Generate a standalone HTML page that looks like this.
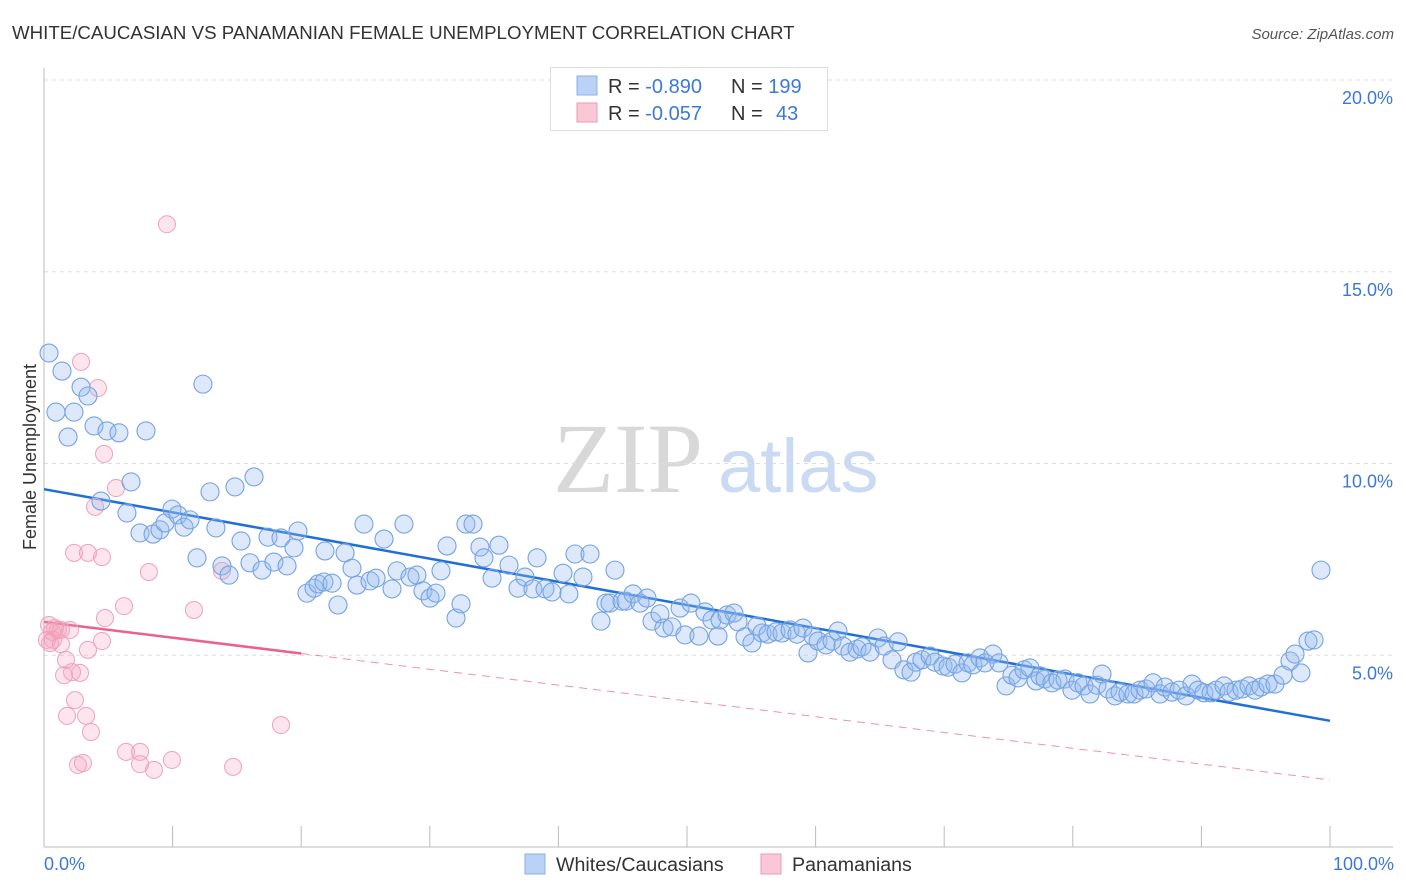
<!DOCTYPE html>
<html><head><meta charset="utf-8"><style>
body{margin:0;background:#fff;font-family:"Liberation Sans",sans-serif;}
svg{display:block}
</style></head><body>
<svg id="chart" width="1406" height="892" xmlns="http://www.w3.org/2000/svg">
<text x="12" y="39" font-size="18.7" fill="#333">WHITE/CAUCASIAN VS PANAMANIAN FEMALE UNEMPLOYMENT CORRELATION CHART</text>
<text x="1394" y="39" font-size="15" fill="#555" font-style="italic" text-anchor="end">Source: ZipAtlas.com</text>
<g>
<text x="553" y="492" font-size="100" font-family="Liberation Serif,serif" fill="#d8d8d8">ZIP</text>
<text x="718" y="492" font-size="76" fill="#c9daf2">atlas</text>
</g>
<g id="grid"></g>
<g id="axes"></g>
<g id="trend"></g>
<g id="pinkPts"></g>
<g id="bluePts"></g>
<text x="36" y="457" font-size="18" fill="#333" text-anchor="middle" transform="rotate(-90 36 457)">Female Unemployment</text>
<g>
<rect x="550.5" y="67.5" width="277" height="63" fill="#fff" stroke="#ddd"/>
<rect x="577" y="76" width="20" height="19" fill="#b9d2f5" stroke="#8ab0ea"/>
<rect x="577" y="103" width="20" height="19" fill="#f9c7d6" stroke="#ee9ab5"/>
<text x="608" y="93" font-size="20" fill="#333">R = <tspan fill="#3b78d8">-0.890</tspan></text>
<text x="731" y="93" font-size="20" fill="#333">N = <tspan fill="#3b78d8">199</tspan></text>
<text x="608" y="120" font-size="20" fill="#333">R = <tspan fill="#3b78d8">-0.057</tspan></text>
<text x="731" y="120" font-size="20" fill="#333">N = <tspan fill="#3b78d8" x="776">43</tspan></text>
</g>
<g>
<rect x="525" y="854" width="20" height="20" fill="#b9d2f5" stroke="#8ab0ea"/>
<text x="556" y="871" font-size="19.6" fill="#333">Whites/Caucasians</text>
<rect x="761" y="854" width="20" height="20" fill="#f9c7d6" stroke="#ee9ab5"/>
<text x="792" y="871" font-size="19.6" fill="#333">Panamanians</text>
</g>
</svg>
<script>
const blueX=[0.39,1.40,2.88,3.42,0.93,2.33,1.87,3.89,4.90,5.83,7.93,12.36,4.43,6.77,6.45,7.47,8.48,9.02,9.41,9.95,10.42,10.89,11.35,11.90,12.91,13.37,13.84,14.39,14.85,15.32,16.02,16.33,16.95,17.42,17.88,18.43,18.90,19.44,19.75,20.45,21.00,21.31,21.77,22.40,21.85,22.86,23.41,23.95,24.34,24.88,25.35,25.82,26.44,27.06,27.45,27.99,28.46,29.00,29.47,30.02,30.48,30.87,31.34,32.04,32.43,32.81,33.36,33.90,34.21,34.84,35.38,36.16,36.86,37.40,38.02,38.34,38.96,39.50,40.36,40.82,41.29,41.91,42.46,43.31,43.70,44.01,44.40,44.95,45.26,45.80,46.35,46.89,47.28,47.90,48.21,48.83,49.46,49.84,50.31,50.93,51.40,51.94,52.41,52.57,53.11,53.65,53.97,54.51,55.05,55.44,55.83,56.30,56.92,57.39,58.01,58.55,59.02,59.41,59.80,60.19,60.81,61.28,61.74,62.13,62.67,63.22,63.61,64.23,64.85,65.32,65.94,66.41,66.87,67.42,67.81,68.27,68.90,69.28,69.91,70.30,70.84,71.38,71.85,72.24,72.78,73.17,73.79,74.26,74.81,75.27,75.74,76.21,76.67,77.14,77.45,77.84,78.38,78.85,79.39,79.94,80.40,80.87,81.34,81.88,82.27,82.74,83.28,83.67,84.29,84.76,85.23,85.69,86.24,86.78,87.17,87.71,88.26,88.80,89.27,89.74,90.20,90.75,91.14,91.76,92.15,92.69,93.16,93.70,94.17,94.63,95.18,95.72,96.35,96.89,97.28,97.74,98.29,98.76,99.30];
const blueY=[12.88,12.41,11.99,11.76,11.34,11.34,10.69,10.98,10.85,10.80,10.85,12.07,9.02,9.52,8.71,8.19,8.16,8.27,8.45,8.81,8.66,8.34,8.53,7.54,9.26,8.32,7.33,7.09,9.39,7.98,7.41,9.65,7.22,8.08,7.43,8.06,7.33,7.80,8.24,6.62,6.75,6.86,6.91,6.88,7.72,6.31,7.67,7.27,6.83,8.42,6.94,7.01,8.03,6.73,7.20,8.42,7.04,7.09,6.68,6.49,6.62,7.20,7.85,5.97,6.34,8.42,8.42,7.82,7.54,7.01,7.87,7.35,6.75,7.04,6.73,7.54,6.73,6.65,7.14,6.60,7.64,7.04,7.64,5.89,6.36,6.36,7.22,6.41,6.41,6.60,6.36,6.49,5.89,6.08,5.71,5.74,6.23,5.53,6.36,5.50,6.13,5.92,5.50,5.92,6.05,6.10,5.87,5.48,5.32,5.76,5.58,5.55,5.61,5.58,5.66,5.55,5.71,5.06,5.50,5.37,5.27,5.37,5.63,5.24,5.08,5.16,5.22,5.08,5.45,5.24,4.88,5.35,4.62,4.56,4.82,4.88,4.98,4.82,4.72,4.69,4.77,4.54,4.80,4.75,4.93,4.80,5.03,4.80,4.20,4.48,4.41,4.62,4.67,4.33,4.46,4.38,4.28,4.35,4.38,4.09,4.28,4.20,3.99,4.22,4.51,4.12,3.94,4.04,3.99,3.99,4.09,4.12,4.28,3.99,4.17,4.04,4.09,3.94,4.25,4.09,4.02,4.02,4.09,4.20,4.04,4.09,4.12,4.20,4.09,4.17,4.25,4.25,4.48,4.85,5.03,4.54,5.37,5.40,7.22];
const pinkX=[0.39,0.62,0.86,1.09,0.47,0.70,1.32,2.02,1.32,1.71,2.18,2.80,1.56,2.41,1.79,3.27,3.65,2.64,3.03,6.38,7.47,7.47,8.55,9.95,14.70,18.43,2.33,3.42,4.51,8.16,13.84,11.66,4.74,6.22,4.51,3.42,3.97,5.60,4.67,4.20,2.88,9.56,0.23];
const pinkY=[5.79,5.61,5.71,5.66,5.32,5.40,5.66,5.66,5.29,4.88,4.56,4.54,4.48,3.83,3.42,3.42,3.00,2.14,2.19,2.48,2.48,2.16,2.01,2.27,2.09,3.18,7.67,7.67,7.56,7.17,7.20,6.18,5.97,6.28,5.37,5.14,8.87,9.36,10.25,11.97,12.65,16.24,5.40];
const blueTrend=[9.33,3.29];
const pinkTrend=[5.87,1.75];
const pinkSolidEnd=20;
const yTicks=[5,10,15,20];
const xTickLabels=["0.0%","100.0%"];

const NS="http://www.w3.org/2000/svg";
const X0=44,X1=1330,Y0=847,PX=38.35;
const sx=v=>X0+(X1-X0)*v/100;
const sy=v=>Y0-v*PX;
function mk(tag,attrs,parent){const e=document.createElementNS(NS,tag);for(const k in attrs)e.setAttribute(k,attrs[k]);parent.appendChild(e);return e;}
const grid=document.getElementById('grid'),axes=document.getElementById('axes');
yTicks.forEach(t=>{
  const l=mk('line',{x1:X0,x2:1393,y1:sy(t),y2:sy(t),stroke:'#ddd','stroke-dasharray':'4,4'},grid);
  
  
  const tx=mk('text',{x:1393,y:sy(t)+24,'font-size':18,fill:'#3b78d8','text-anchor':'end'},axes);
  tx.textContent=t.toFixed(1)+'%';
  
  
});
mk('line',{x1:X0,x2:X0,y1:68,y2:Y0,stroke:'#bbb'},axes);
mk('line',{x1:X0,x2:1393,y1:Y0,y2:Y0,stroke:'#bbb'},axes);
for(let i=0;i<=10;i++){
  const t=mk('line',{x1:sx(i*10),x2:sx(i*10),y1:826,y2:Y0,stroke:'#bbb'},axes);
  
  
}
const xl0=mk('text',{x:44,y:870,'font-size':18,fill:'#3b78d8'},axes);xl0.textContent=xTickLabels[0];


const xl1=mk('text',{x:1394,y:870,'font-size':18,fill:'#3b78d8','text-anchor':'end'},axes);xl1.textContent=xTickLabels[1];



const pg=document.getElementById('pinkPts');
pinkX.forEach((x,i)=>{
  const c=mk('circle',{cx:sx(x),cy:sy(pinkY[i]),r:8.5,fill:'rgba(244,160,188,0.28)',stroke:'#f0a0bb','stroke-width':1},pg);
  
  
});
const bg=document.getElementById('bluePts');
blueX.forEach((x,i)=>{
  const c=mk('circle',{cx:sx(x),cy:sy(blueY[i]),r:9,fill:'rgba(150,188,240,0.32)',stroke:'#74a2e4','stroke-width':1.1},bg);
  
  
});
const tg=document.getElementById('trend');
const bl=mk('line',{x1:sx(0),y1:sy(blueTrend[0]),x2:sx(100),y2:sy(blueTrend[1]),stroke:'#1f6fd8','stroke-width':2.5},tg);


const pAt=p=>pinkTrend[0]+(pinkTrend[1]-pinkTrend[0])*p/100;
const pl=mk('line',{x1:sx(0),y1:sy(pinkTrend[0]),x2:sx(pinkSolidEnd),y2:sy(pAt(pinkSolidEnd)),stroke:'#e8628e','stroke-width':2.5},tg);


const pd=mk('line',{x1:sx(pinkSolidEnd),y1:sy(pAt(pinkSolidEnd)),x2:sx(100),y2:sy(pinkTrend[1]),stroke:'#e8628e','stroke-width':1,'stroke-dasharray':'8,6','opacity':0.7},tg);


</script>
</body></html>
